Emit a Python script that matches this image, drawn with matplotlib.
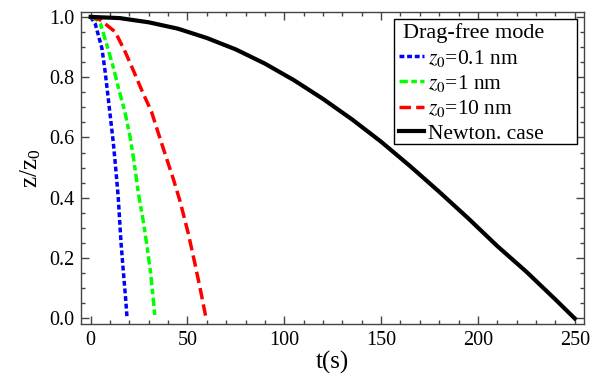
import matplotlib
matplotlib.use('Agg')
import matplotlib.pyplot as plt
from matplotlib.patches import Rectangle
from matplotlib.ticker import MultipleLocator

plt.rcParams['font.family'] = ['Liberation Serif', 'DejaVu Serif']
plt.rcParams['mathtext.fontset'] = 'stix'

# values
t_01 = [0, 2.4, 5.8, 7.5, 8.9, 10.1, 11.7, 13.0, 14.2, 15.7, 16.8, 18.0, 18.8]
z_01 = [1.0, 0.976, 0.896, 0.817, 0.739, 0.672, 0.582, 0.493, 0.404, 0.249, 0.16, 0.07, 0.0]

t_1 = [0, 3.3, 5.0, 8.4, 11.9, 14.5, 17.5, 20.3, 22.5, 24.6, 26.9, 28.9, 31.0, 33.3]
z_1 = [1.0, 0.99, 0.978, 0.906, 0.828, 0.76, 0.69, 0.604, 0.516, 0.416, 0.332, 0.249, 0.149, 0.0]

t_10 = [0, 5, 12.7, 17.9, 22.2, 26.5, 31.5, 34.9, 38.4, 42.7, 46.1, 50.4, 53.9, 57.0, 59.6]
z_10 = [1.0, 0.99, 0.95, 0.883, 0.82, 0.755, 0.684, 0.615, 0.546, 0.462, 0.39, 0.282, 0.18, 0.085, 0.0]

t_newton = [0, 15, 30, 45, 60, 75, 90, 105, 120, 135, 150, 165, 180, 195, 210, 225, 240, 250]
z_newton = [1.0, 0.996, 0.982, 0.961, 0.930, 0.892, 0.845, 0.790, 0.728, 0.660, 0.586,
            0.505, 0.420, 0.332, 0.240, 0.155, 0.063, 0.0]

W, H = 600, 377
fig = plt.figure(figsize=(W / 100, H / 100), dpi=100)
ax = fig.add_axes([0.135, 0.141, 0.838, 0.827])

lw = 2.5
ax.plot(t_01, z_01, color='#0000ff', lw=lw, linestyle=(0, (1.4, 0.8)),
        label=r'$z_0$=0.1 nm')
ax.plot(t_1, z_1, color='#00ff00', lw=lw, linestyle=(0, (2.4, 1.0, 1.6, 1.0)),
        label=r'$z_0$=1 nm')
ax.plot(t_10, z_10, color='#ff0000', lw=lw, linestyle=(0, (3.3, 1.5)),
        label=r'$z_0$=10 nm')
ax.plot(t_newton, z_newton, color='black', lw=3.0, label='Newton. case')

ax.set_xlim(-5.0, 254.7)
ax.set_ylim(-0.018, 1.016)

ax.xaxis.set_major_locator(MultipleLocator(50))
ax.xaxis.set_minor_locator(MultipleLocator(10))
ax.yaxis.set_major_locator(MultipleLocator(0.2))
ax.yaxis.set_minor_locator(MultipleLocator(0.05))
ax.tick_params(which='both', direction='in', top=True, right=True,
               color='#444444', width=1.0, labelsize=14.5, pad=5)
ax.tick_params(which='major', length=6)
ax.tick_params(which='minor', length=3)
for s in ax.spines.values():
    s.set_color('#444444')
    s.set_linewidth(1.0)

ax.set_xlabel('t(s)', fontsize=18, labelpad=1)
ax.set_ylabel(r'z/z$_\mathregular{0}$', fontsize=18, labelpad=4)

# legend without its own frame; box drawn separately (wider on the right, like the original)
leg = ax.legend(title='Drag-free mode', loc='upper left',
                bbox_to_anchor=(399 / W, 1 - 23.5 / H),
                bbox_transform=fig.transFigure, borderaxespad=0,
                fontsize=15.5, title_fontsize=16, frameon=False,
                handlelength=1.16, handletextpad=0.19, labelspacing=0.2,
                borderpad=0)
leg._legend_box.align = 'right'
box = Rectangle((394 / W, 1 - 144 / H), (577 - 394) / W, (144 - 19) / H,
                transform=fig.transFigure, facecolor='white',
                edgecolor='black', lw=1.0, zorder=4)
ax.add_artist(box)
box.set_clip_on(False)
leg.set_zorder(5)

fig.savefig('out.png', dpi=100)
